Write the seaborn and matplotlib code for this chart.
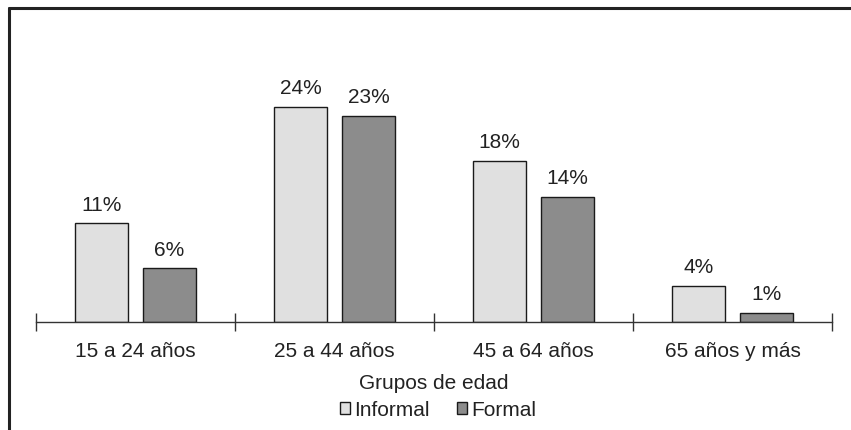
import matplotlib
matplotlib.use("Agg")
import matplotlib.pyplot as plt
from matplotlib.lines import Line2D
from matplotlib.patches import Patch
import seaborn as sns
import pandas as pd

# Share of workers by age group and employment type
grupos = ["15 a 24 años", "25 a 44 años", "45 a 64 años", "65 años y más"]
informal = [11, 24, 18, 4]
formal = [6, 23, 14, 1]
series = ["Informal", "Formal"]
colores = {"Informal": "#e0e0e0", "Formal": "#8c8c8c"}

df = pd.DataFrame({
    "grupo": grupos * 2,
    "tipo": ["Informal"] * len(grupos) + ["Formal"] * len(grupos),
    "valor": informal + formal,
})

sns.set_style("white")
plt.rcParams["font.family"] = ["Liberation Sans", "DejaVu Sans"]
text_color = "#222222"
fs = 15

fig = plt.figure(figsize=(8.51, 4.31), dpi=100)
W, H = 851, 431
ax_left, ax_right = 36 / W, 832 / W
ax_bottom = (H - 323) / H
ymax = 30
px_per_unit = 215 / 24
ax_h = ymax * px_per_unit / H
ax = fig.add_axes([ax_left, ax_bottom, ax_right - ax_left, ax_h])

sns.barplot(data=df, x="grupo", y="valor", hue="tipo", order=grupos,
            hue_order=series, palette=colores, width=0.684, gap=0.22,
            edgecolor="#1a1a1a", linewidth=1.0, ax=ax, legend=False,
            errorbar=None)

ax.set_xlim(-0.5, len(grupos) - 0.5)
ax.set_ylim(0, ymax)

for cont in ax.containers:
    ax.bar_label(cont, labels=[f"{v:.0f}%" for v in cont.datavalues],
                 padding=7, fontsize=fs, color=text_color)

for side in ["left", "right", "top"]:
    ax.spines[side].set_visible(False)
ax.spines["bottom"].set_color("#333333")
ax.spines["bottom"].set_linewidth(1.0)
ax.set_yticks([])
ax.set_ylabel("")

# category labels at group centres, boundary ticks between groups
ax.set_xticks(range(len(grupos)))
ax.set_xticklabels(grupos, fontsize=fs, color=text_color)
ax.tick_params(axis="x", which="major", length=0, pad=14)
ax.set_xticks([i - 0.5 for i in range(len(grupos) + 1)], minor=True)
ax.tick_params(axis="x", which="minor", bottom=True, length=13,
               direction="inout", width=1.0, color="#333333")
ax.set_xlabel("Grupos de edad", fontsize=fs, color=text_color, labelpad=9)

handles = [Patch(facecolor=colores[s], edgecolor="#1a1a1a", linewidth=1.0)
           for s in series]
fig.legend(handles, series, loc="center", bbox_to_anchor=(438 / W, (H - 411) / H),
           ncol=2, frameon=False, fontsize=fs, handlelength=0.5,
           handleheight=0.5, handletextpad=0.2, columnspacing=1.3,
           labelcolor=text_color, borderaxespad=0)

# outer frame along the top and left edges
fig.add_artist(Line2D([8.5 / W, 1.0], [(H - 8.5) / H] * 2, color="#222222",
                      linewidth=2.2, transform=fig.transFigure))
fig.add_artist(Line2D([8.5 / W] * 2, [0.0, (H - 8.5) / H], color="#222222",
                      linewidth=2.2, transform=fig.transFigure))

fig.savefig("out.png", dpi=100)
